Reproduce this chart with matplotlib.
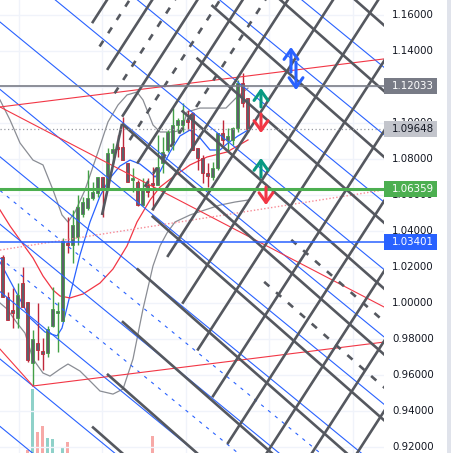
import numpy as np
import matplotlib.pyplot as plt
from matplotlib.patches import Rectangle

# daily candles, one per bar
opens = [1.0256, 1.0033, 0.9961, 0.9917, 1.0111, 1.0006, 0.9667, 0.9778, 0.9733, 0.9722,
         0.9872, 0.9944, 0.9900, 1.0333, 1.0322, 1.0367, 1.0494, 1.0528, 1.0583, 1.0611,
         1.0700, 1.0639, 1.0833, 1.0867, 1.0867, 1.0778, 1.0683, 1.0672, 1.0544, 1.0656,
         1.0667, 1.0656, 1.0778, 1.0850, 1.0894, 1.0989, 1.0989, 1.1017, 1.1056, 1.0861,
         1.0806, 1.0722, 1.0700, 1.0750, 1.0944, 1.0906, 1.0906, 1.0972, 1.1222, 1.1139]
highs = [1.0267, 1.0061, 1.0083, 1.0111, 1.0200, 1.0006, 0.9850, 1.0000, 0.9806, 0.9872,
         1.0089, 1.0006, 1.0361, 1.0478, 1.0517, 1.0600, 1.0589, 1.0739, 1.0672, 1.0700,
         1.0700, 1.0861, 1.0889, 1.0933, 1.1033, 1.0778, 1.0750, 1.0683, 1.0694, 1.0694,
         1.0756, 1.0933, 1.0922, 1.0961, 1.1083, 1.1028, 1.1111, 1.1072, 1.1061, 1.0861,
         1.0822, 1.0778, 1.0783, 1.0944, 1.1017, 1.0972, 1.0978, 1.1239, 1.1278, 1.1139]
lows = [1.0033, 0.9906, 0.9861, 0.9861, 0.9978, 0.9672, 0.9539, 0.9683, 0.9628, 0.9700,
        0.9867, 0.9728, 0.9900, 1.0278, 1.0222, 1.0322, 1.0478, 1.0517, 1.0572, 1.0589,
        1.0478, 1.0639, 1.0778, 1.0811, 1.0794, 1.0672, 1.0617, 1.0539, 1.0539, 1.0589,
        1.0517, 1.0656, 1.0722, 1.0839, 1.0850, 1.0944, 1.0950, 1.0961, 1.0850, 1.0739,
        1.0667, 1.0644, 1.0683, 1.0739, 1.0878, 1.0839, 1.0878, 1.0950, 1.1089, 1.0950]
closes = [1.0033, 0.9906, 0.9944, 1.0044, 0.9978, 0.9683, 0.9800, 0.9739, 0.9717, 0.9856,
          0.9967, 0.9956, 1.0344, 1.0322, 1.0433, 1.0533, 1.0561, 1.0583, 1.0617, 1.0700,
          1.0639, 1.0833, 1.0856, 1.0856, 1.0794, 1.0672, 1.0694, 1.0544, 1.0639, 1.0617,
          1.0656, 1.0756, 1.0839, 1.0950, 1.0989, 1.1017, 1.1017, 1.1006, 1.0850, 1.0806,
          1.0722, 1.0706, 1.0750, 1.0944, 1.0906, 1.0928, 1.0972, 1.1222, 1.1111, 1.0965]
volumes = [0, 0, 0, 0, 0, 3, 64, 21, 27, 15, 14, 0, 5, 11, 0, 0, 0, 0, 0, 0,
           0, 0, 0, 0, 0, 0, 0, 0, 0, 0, 17, 0, 0, 0, 0, 0, 0, 0, 0, 0,
           0, 0, 0, 0, 0, 0, 0, 0, 0, 0]

# bollinger bands and moving averages, read at sample bars
bb_up_x = [-0.6, 1.4, 3.4, 6.0, 8.0, 10.0, 11.8, 13.0, 14.4, 16.4, 19.0, 21.0, 23.0,
           24.8, 26.8, 28.0, 30.0, 31.4, 34.0, 35.8, 36.8, 39.4, 44.6, 46.6, 49.0]
bb_up = [1.1128, 1.1017, 1.0889, 1.0794, 1.0767, 1.0628, 1.0489, 1.0450, 1.0506, 1.0628,
         1.0839, 1.1006, 1.1100, 1.1156, 1.1172, 1.1128, 1.0989, 1.0950, 1.0950, 1.0961,
         1.1061, 1.1083, 1.1083, 1.1139, 1.1194]
bb_lo_x = [-0.6, 0.8, 2.8, 4.4, 6.0, 8.0, 9.4, 11.4, 13.0, 15.4, 17.4, 19.4, 22.0,
           24.0, 26.0, 28.0, 30.0, 31.4, 32.8, 34.4, 37.4, 40.4, 43.4, 46.4, 49.0]
bb_lo = [1.0000, 0.9967, 0.9889, 0.9833, 0.9689, 0.9611, 0.9594, 0.9633, 0.9661, 0.9622,
         0.9567, 0.9511, 0.9494, 0.9522, 0.9689, 0.9967, 1.0206, 1.0317, 1.0389, 1.0450,
         1.0489, 1.0517, 1.0544, 1.0561, 1.0572]
ma_fast_x = [-0.6, 2.4, 5.4, 8.4, 10.8, 11.8, 13.4, 15.4, 17.4, 19.4, 21.4, 23.4, 25.4,
             27.4, 29.4, 30.4, 31.4, 33.4, 35.4, 37.4, 39.4, 41.4, 43.4, 45.0, 47.0, 49.0]
ma_fast = [1.0228, 1.0072, 0.9917, 0.9839, 0.9817, 0.9861, 1.0044, 1.0267, 1.0450, 1.0594,
           1.0694, 1.0761, 1.0794, 1.0772, 1.0728, 1.0700, 1.0730, 1.0839, 1.0928, 1.0961,
           1.0917, 1.0850, 1.0850, 1.0889, 1.0928, 1.0961]
ma_slow_x = [-0.6, 1.4, 3.4, 6.0, 8.0, 10.0, 11.4, 13.4, 16.0, 19.4, 22.0, 24.8, 26.8,
             29.4, 31.4, 34.0, 37.4, 40.8, 44.8, 49.0]
ma_slow = [1.0517, 1.0428, 1.0350, 1.0250, 1.0150, 1.0072, 1.0039, 1.0028, 1.0050, 1.0111,
           1.0189, 1.0317, 1.0450, 1.0572, 1.0644, 1.0700, 1.0767, 1.0811, 1.0839, 1.0906]

# drawings: parallel families given as price at bar 0, step between lines, slope per bar
fall_base, fall_step, fall_slope = 1.34057, -0.036569, -0.0024444
fall_ks = [0, 1, 2, 3, 4, 6, 7, 8, 9, 10]
fall_dash_ks = [4.5, 5.5]
rise_base, rise_step, rise_slope = 1.07878, -0.038922, 0.0043056
rise_ks = list(range(0, 13))
rise_dash_ks = [0.5, 1.5, 2.5, 3.5]
blue_base, blue_step, blue_slope = 1.15474, -0.037444, -0.0022778
blue_ks = list(range(-4, 7))
blue_dash_ks = [2.5, 3.5]
# edges where the grid lines begin: (bar, price, slope)
fall_edge = (29.8, 1.04889, 0.009806)
rise_edge = (17.8, 1.15556, -0.008642)
dash_edge_k = 7.5
# box: left side from its low to the falling line k=5, which runs on from there
box_bars = (19.8, 23.8)
box_low = 1.04889
box_k = 5

red_lines = [((-0.6, 1.1089), (76.2, 1.1356)),
             ((-0.6, 1.1089), (76.2, 0.9978)),
             ((-0.6, 0.9744), (6.0, 0.9539)),
             ((6.0, 0.9539), (76.2, 0.9783))]
red_dotted = ((-0.6, 1.0294), (76.2, 1.0628))

hlines = {'gray': 1.12033, 'last': 1.09648, 'green': 1.06359, 'blue': 1.03401}

# arrows: bar, tail price, head price, colour
arrows = [(57.6, 1.1283, 1.1422, '#2962ff'), (58.6, 1.1339, 1.1183, '#2962ff'),
          (51.6, 1.1089, 1.1194, '#089981'), (51.6, 1.1050, 1.0944, '#f23645'),
          (51.6, 1.0700, 1.0806, '#089981'), (52.6, 1.0644, 1.0544, '#f23645')]

tick_prices = [0.92, 0.94, 0.96, 0.98, 1.00, 1.02, 1.04, 1.06, 1.08, 1.10, 1.12, 1.14, 1.16]
grid_bars = [3.2, 19.9, 36.6, 53.3, 70.0]

DARK = '#55585f'
X_END = 80

fig = plt.figure(figsize=(4.52, 4.53), dpi=100)
fig.patch.set_facecolor('white')
pos = [0, 0, 384 / 452, 1]
axv = fig.add_axes(pos)
ax = fig.add_axes(pos)
ax.patch.set_alpha(0)
for a in (axv, ax):
    a.set_xlim(-0.6, 76.2)
    a.set_axis_off()
ax.set_ylim(0.91667, 1.16833)

# volume
bars = np.arange(len(closes))
vcol = ['#8fd1c9' if c >= o else '#f7a9a7' for o, c in zip(opens, closes)]
axv.bar(bars, volumes, width=0.6, color=vcol)
axv.set_ylim(0, max(volumes) * 7.1)

# grid
for p in tick_prices:
    ax.axhline(p, color='#f0f3fa', lw=1, zorder=0)
for b in grid_bars:
    ax.axvline(b, color='#f0f3fa', lw=1, zorder=0)

# indicators
ax.plot(bb_up_x, bb_up, color='#8a8d94', lw=0.9, zorder=2)
ax.plot(bb_lo_x, bb_lo, color='#8a8d94', lw=0.9, zorder=2)
ax.plot(ma_fast_x, ma_fast, color='#2962ff', lw=0.9, zorder=2)
ax.plot(ma_slow_x, ma_slow, color='#f23645', lw=0.9, zorder=2)

# candles
for i in bars:
    up = closes[i] >= opens[i]
    col = '#43a047' if up else '#c0283a'
    ax.vlines(i, lows[i], highs[i], color=col, lw=1, zorder=3)
    lo, hi = sorted((opens[i], closes[i]))
    ax.add_patch(Rectangle((i - 0.3, lo), 0.6, max(hi - lo, 0.0004),
                           facecolor='#5d606b', edgecolor=col, lw=0.6, zorder=3))


def start_bar(base, slope, edge):
    b0, p0, s = edge
    return (p0 - s * b0 - base) / (slope - s)


def draw_family(base, step, slope, ks, edge, **kw):
    for k in ks:
        b = base + step * k
        x0 = -0.6 if edge is None else start_bar(b, slope, edge)
        xs = np.array([x0, X_END])
        ax.plot(xs, b + slope * xs, **kw)


blue_kw = dict(color='#2962ff', lw=0.8, zorder=4)
draw_family(blue_base, blue_step, blue_slope, blue_ks, None, **blue_kw)
draw_family(blue_base, blue_step, blue_slope, blue_dash_ks, None, ls=(0, (3, 5)), **blue_kw)

for (x0, y0), (x1, y1) in red_lines:
    ax.plot([x0, x1], [y0, y1], color='#f23645', lw=0.8, zorder=4)
(x0, y0), (x1, y1) = red_dotted
ax.plot([x0, x1], [y0, y1], color='#f78a95', lw=1, ls=(0, (1, 1.5)), zorder=4)

dark_kw = dict(color=DARK, lw=1.9, solid_capstyle='butt', zorder=5)
dash_kw = dict(dark_kw, ls=(0, (2.6, 3.4)))
draw_family(fall_base, fall_step, fall_slope, fall_ks, fall_edge, **dark_kw)
draw_family(rise_base, rise_step, rise_slope, rise_ks, rise_edge, **dark_kw)
draw_family(rise_base, rise_step, rise_slope, rise_dash_ks, rise_edge, **dash_kw)
dash_edge = (0, rise_base + dash_edge_k * rise_step, rise_slope)
draw_family(fall_base, fall_step, fall_slope, fall_dash_ks, dash_edge, **dash_kw)

# box side and its top edge, which is the falling line k=5
bx0, bx1 = box_bars
top = fall_base + fall_step * box_k
ax.plot([bx0, bx1], [box_low, top + fall_slope * bx1], **dark_kw)
xs = np.array([bx1, X_END])
ax.plot(xs, top + fall_slope * xs, **dark_kw)

# horizontal levels
ax.axhline(hlines['gray'], color='#787b86', lw=1.2, zorder=6)
ax.axhline(hlines['last'], color='#9598a1', lw=0.9, ls=(0, (1, 2)), zorder=6)
ax.axhline(hlines['green'], color='#4caf50', lw=2.2, zorder=6)
ax.axhline(hlines['blue'], color='#2962ff', lw=1.1, zorder=6)

for b, p0, p1, c in arrows:
    ax.annotate('', xy=(b, p1), xytext=(b, p0),
                arrowprops=dict(arrowstyle='->,head_length=0.7,head_width=0.5',
                                color=c, lw=2.2, shrinkA=0, shrinkB=0), zorder=7)

# price scale
tr = ax.get_yaxis_transform()
for p in tick_prices:
    ax.text(392 / 384, p, f'{p:.5f}', transform=tr, ha='left', va='center',
            fontsize=7.4, color='#131722', clip_on=False, zorder=8)

labels = [(hlines['gray'], '#787b86', 'white'), (hlines['last'], '#c3c5cc', '#131722'),
          (hlines['green'], '#4caf50', 'white'), (hlines['blue'], '#2962ff', 'white')]
h = 8 / 1800
for p, fc, tc in labels:
    ax.add_patch(Rectangle((1.0, p - h), 53 / 384, 2 * h, transform=tr, facecolor=fc,
                           edgecolor='none', clip_on=False, zorder=9))
    ax.text(392 / 384, p, f'{p:.5f}', transform=tr, ha='left', va='center',
            fontsize=7.4, color=tc, clip_on=False, zorder=10)

fig.patches.append(Rectangle((447 / 452, 0), 5 / 452, 1, transform=fig.transFigure,
                             facecolor='#e0e3eb', edgecolor='none'))

fig.savefig('out.png', dpi=100)
